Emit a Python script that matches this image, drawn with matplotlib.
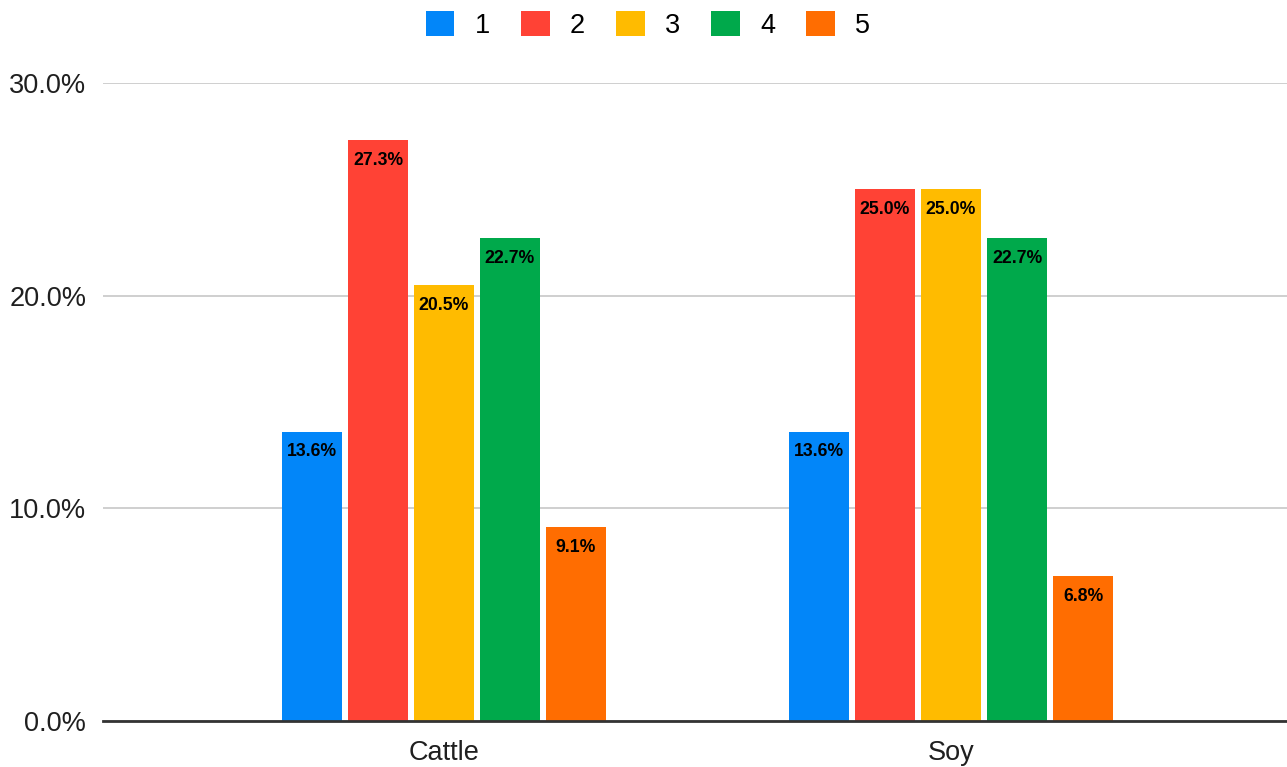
import numpy as np
import matplotlib.pyplot as plt
from matplotlib.patches import Patch
from matplotlib.ticker import FuncFormatter

plt.rcParams['font.family'] = ['Liberation Sans', 'DejaVu Sans']

# share of answers per rating, by product
categorias = ['Cattle', 'Soy']
series = ['1', '2', '3', '4', '5']
valores_1 = [13.6, 13.6]
valores_2 = [27.3, 25.0]
valores_3 = [20.5, 25.0]
valores_4 = [22.7, 22.7]
valores_5 = [9.1, 6.8]
colores = ['#0286F9', '#FF4235', '#FFBB00', '#00A94B', '#FF6D01']

datos = [valores_1, valores_2, valores_3, valores_4, valores_5]

fig = plt.figure(figsize=(12.87, 7.67), dpi=100)
ax = fig.add_axes([0.0800, 0.0600, 0.9200, 0.8318])

x = np.arange(len(categorias))
ancho = 0.1183
paso = 0.1302

for i, (vals, col) in enumerate(zip(datos, colores)):
    pos = x + (i - 2) * paso
    barras = ax.bar(pos, vals, width=ancho, color=col, zorder=3)
    for b, v in zip(barras, vals):
        ax.annotate(f'{v:.1f}%', xy=(b.get_x() + b.get_width() / 2, v),
                    xytext=(0, -14.5), textcoords='offset points',
                    ha='center', va='center', fontsize=12.7,
                    fontweight='bold', color='black', zorder=4)

ax.set_xlim(-0.6726, 1.6627)
ax.set_ylim(0, 30)
ax.set_yticks([0, 10, 20, 30])
ax.yaxis.set_major_formatter(FuncFormatter(lambda v, p: f'{v:.1f}%'))
ax.set_xticks(x)
ax.set_xticklabels(categorias)
ax.tick_params(axis='both', length=0, labelsize=19.5, colors='#1f1f1f')
ax.tick_params(axis='y', pad=12)
ax.tick_params(axis='x', pad=14)

ax.grid(axis='y', color='#cccccc', linewidth=1.3, zorder=0)
for lado in ['top', 'right', 'left']:
    ax.spines[lado].set_visible(False)
ax.spines['bottom'].set_color('#333333')
ax.spines['bottom'].set_linewidth(2)
ax.spines['bottom'].set_zorder(5)

# leyenda arriba, centrada
manijas = [Patch(facecolor=c, edgecolor='none') for c in colores]
fig.legend(manijas, series, loc='upper center', bbox_to_anchor=(0.5035, 1.017),
           ncol=5, frameon=False, fontsize=19.5, handlelength=1.05,
           handleheight=1.05, handletextpad=0.75, columnspacing=1.15)

plt.savefig('out.png', dpi=100)
